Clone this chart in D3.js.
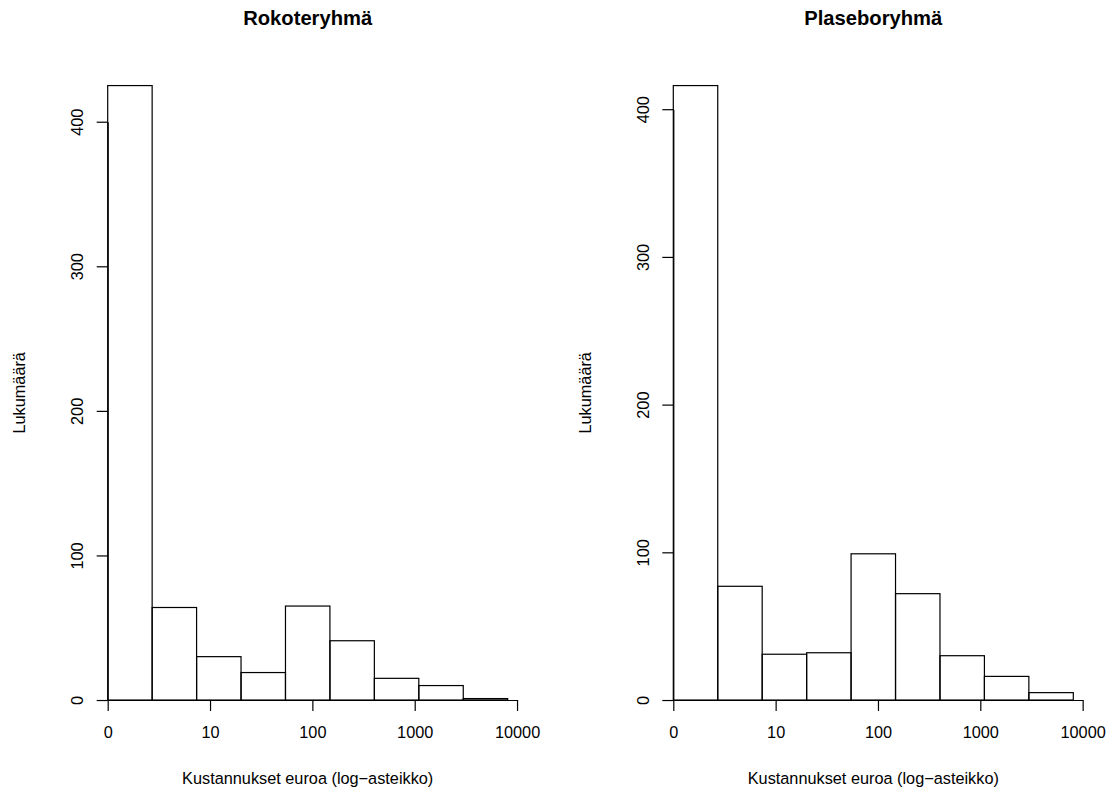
<!DOCTYPE html>
<html>
<head>
<meta charset="utf-8">
<script src="https://cdn.jsdelivr.net/npm/d3@7"></script>
<style>
  body { margin: 0; background: #fff; }
  svg { display: block; font-family: "Liberation Sans", Arial, sans-serif; }
</style>
</head>
<body>
<svg id="chart" width="1112" height="812"></svg>
<script>
// histogram bins on natural-log scale of costs: [0,1), [1,2), ... [8,9)
var binEdges = [0, 1, 2, 3, 4, 5, 6, 7, 8, 9];
var rokoteCounts = [425, 64, 30, 19, 65, 41, 15, 10, 1];
var plaseboCounts = [416, 77, 31, 32, 99, 72, 30, 16, 5];

// x tick labels (euros) and y ticks
var xTickLabels = ["0", "10", "100", "1000", "10000"];
var xTickEuros = [1, 10, 100, 1000, 10000];
var yTicks = [0, 100, 200, 300, 400];

var titles = ["Rokoteryhmä", "Plaseboryhmä"];
var xTitle = "Kustannukset euroa (log\u2212asteikko)";
var yTitle = "Lukumäärä";

var svg = d3.select("#chart");
var labelSize = "16.3px";

// plot regions (R style, 4% padding around data range)
var panels = [
    { title: titles[0], counts: rokoteCounts, left: 91.7, right: 523.7 },
    { title: titles[1], counts: plaseboCounts, left: 657.3, right: 1089.3 }
];
var plotTop = 61, plotBottom = 724.6;

function drawPanel(p) {
    var xMin = binEdges[0], xMax = binEdges[binEdges.length - 1];
    var padX = (xMax - xMin) * 0.04;
    var x = d3.scaleLinear()
        .domain([xMin - padX, xMax + padX])
        .range([p.left, p.right]);

    var yMax = d3.max(p.counts);
    var y = d3.scaleLinear()
        .domain([-yMax * 0.04, yMax * 1.04])
        .range([plotBottom, plotTop]);

    var g = svg.append("g");

    var bins = p.counts.map(function(c, i) {
        return { x0: binEdges[i], x1: binEdges[i + 1], n: c };
    });

    g.selectAll("rect.bar")
        .data(bins)
        .enter().append("rect")
        .attr("class", "bar")
        .attr("x", function(d) { return x(d.x0); })
        .attr("y", function(d) { return y(d.n); })
        .attr("width", function(d) { return x(d.x1) - x(d.x0); })
        .attr("height", function(d) { return y(0) - y(d.n); })
        .style("fill", "none")
        .style("stroke", "#000")
        .style("stroke-width", 1.2);

    // x axis, drawn at y = 0 like axis(pos=0)
    var tickPos = xTickEuros.map(function(v) { return Math.log(v); });
    var xAxisScale = x.copy()
        .domain([tickPos[0], tickPos[tickPos.length - 1]])
        .range([x(tickPos[0]), x(tickPos[tickPos.length - 1])]);

    var xAxis = g.append("g")
        .attr("transform", "translate(0," + y(0) + ")")
        .call(d3.axisBottom(xAxisScale)
            .tickValues(tickPos)
            .tickFormat(function(d, i) { return xTickLabels[i]; })
            .tickSize(11)
            .tickSizeOuter(0)
            .tickPadding(15.2));

    // y axis at x = 0
    var yAxisScale = y.copy()
        .domain([yTicks[0], yTicks[yTicks.length - 1]])
        .range([y(yTicks[0]), y(yTicks[yTicks.length - 1])]);

    var yAxis = g.append("g")
        .attr("transform", "translate(" + x(0) + ",0)")
        .call(d3.axisLeft(yAxisScale)
            .tickValues(yTicks)
            .tickSize(11)
            .tickSizeOuter(0));

    yAxis.selectAll(".tick text")
        .attr("x", 0)
        .attr("y", 0)
        .attr("dy", null)
        .attr("text-anchor", "middle")
        .attr("transform", "translate(-24.4,0) rotate(-90)");

    [xAxis, yAxis].forEach(function(a) {
        a.style("font-family", "'Liberation Sans', Arial, sans-serif")
            .style("font-size", labelSize);
        a.selectAll("path, line")
            .style("stroke", "#000")
            .style("stroke-width", 1.2);
        a.selectAll("text").style("fill", "#000");
    });

    var cx = (p.left + p.right) / 2;

    g.append("text")
        .attr("x", cx)
        .attr("y", 25)
        .attr("text-anchor", "middle")
        .style("font-size", "20.2px")
        .style("font-weight", "bold")
        .text(p.title);

    g.append("text")
        .attr("x", cx)
        .attr("y", 784)
        .attr("text-anchor", "middle")
        .style("font-size", labelSize)
        .text(xTitle);

    g.append("text")
        .attr("transform", "translate(" + (x(0) - 82.7) + "," + ((plotTop + plotBottom) / 2) + ") rotate(-90)")
        .attr("text-anchor", "middle")
        .style("font-size", labelSize)
        .text(yTitle);
}

panels.forEach(drawPanel);
</script>
</body>
</html>
